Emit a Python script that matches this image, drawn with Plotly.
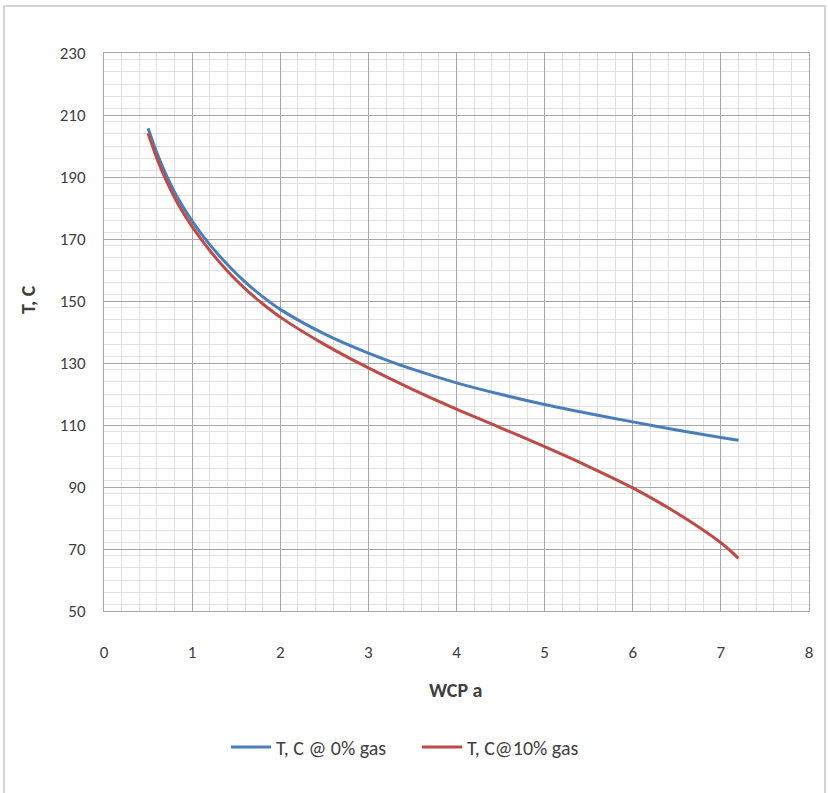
import plotly.graph_objects as go

# Data
wcp_a = [0.5, 0.6, 0.7, 0.8, 0.9, 1.0, 1.2, 1.4, 1.6, 1.8, 2.0, 2.5, 3.0, 3.5,
         4.0, 4.5, 5.0, 5.5, 6.0, 6.5, 7.0, 7.2]
t_0pct_gas = [205.7, 197.8, 191.0, 185.2, 180.2, 175.8, 168.2, 161.8, 156.2, 151.4,
              147.3, 139.4, 133.2, 128.0, 123.6, 119.9, 116.6, 113.7, 111.0, 108.4,
              106.0, 105.1]
t_10pct_gas = [204.1, 196.0, 189.2, 183.4, 178.4, 174.0, 166.3, 159.7, 154.0, 149.1,
               144.8, 136.0, 128.4, 121.5, 115.1, 109.1, 103.0, 96.6, 89.7, 81.6,
               72.0, 67.0]
series_names = ["T, C @ 0% gas", "T, C@10% gas"]
x_ticks = [0, 1, 2, 3, 4, 5, 6, 7, 8]
y_ticks = [50, 70, 90, 110, 130, 150, 170, 190, 210, 230]

FONT = "Carlito, Lato, 'Liberation Sans', sans-serif"
W, H = 828, 793
L, R, T, B = 104, 19, 53, 182
pw, ph = W - L - R, H - T - B

fig = go.Figure()
fig.add_trace(go.Scatter(x=wcp_a, y=t_0pct_gas, mode="lines", name=series_names[0],
                         line=dict(color="#4a7ebb", width=3, shape="spline", smoothing=0.8)))
fig.add_trace(go.Scatter(x=wcp_a, y=t_10pct_gas, mode="lines", name=series_names[1],
                         line=dict(color="#be4b48", width=3, shape="spline", smoothing=0.8)))

def px_x(p):
    return (p - L) / pw

def px_y(p):
    return (H - B - p) / ph

fig.update_layout(
    width=W, height=H,
    margin=dict(l=L, r=R, t=T, b=B),
    paper_bgcolor="white", plot_bgcolor="white",
    font=dict(family=FONT, size=15, color="#404040"),
    showlegend=True,
    legend=dict(orientation="h", x=px_x(226), y=px_y(747), xanchor="left", yanchor="middle",
                font=dict(family=FONT, size=20, color="#404040"), itemwidth=40,
                entrywidth=136, entrywidthmode="pixels",
                bgcolor="rgba(0,0,0,0)"),
    xaxis=dict(range=[0, 8], tickvals=x_ticks, showgrid=True, gridcolor="#a6a6a6", gridwidth=1,
               minor=dict(dtick=0.2, showgrid=True, gridcolor="#e0e0e0", gridwidth=1),
               showline=True, linecolor="#a6a6a6", mirror=True, zeroline=False,
               ticks="", ticklabelstandoff=26, tickfont=dict(size=17, color="#404040")),
    yaxis=dict(range=[50, 230], tickvals=y_ticks, showgrid=True, gridcolor="#a6a6a6", gridwidth=1,
               minor=dict(dtick=4, showgrid=True, gridcolor="#e0e0e0", gridwidth=1),
               showline=True, linecolor="#a6a6a6", mirror=True, zeroline=False,
               ticks="", ticklabelstandoff=14, tickfont=dict(size=17, color="#404040")),
    annotations=[
        dict(text="<b>WCP a</b>", x=px_x(456), y=px_y(690), xref="paper", yref="paper",
             showarrow=False, font=dict(family=FONT, size=20, color="#404040"),
             xanchor="center", yanchor="middle"),
        dict(text="<b>T, C</b>", x=px_x(28), y=px_y(300), xref="paper", yref="paper",
             showarrow=False, textangle=-90, font=dict(family=FONT, size=20, color="#404040"),
             xanchor="center", yanchor="middle"),
    ],
    shapes=[
        dict(type="rect", xref="paper", yref="paper",
             x0=px_x(4), x1=px_x(825), y0=px_y(800), y1=px_y(6),
             line=dict(color="#c8c8c8", width=1.5), fillcolor="rgba(0,0,0,0)", layer="below"),
    ],
)

fig.write_html("out.html")
